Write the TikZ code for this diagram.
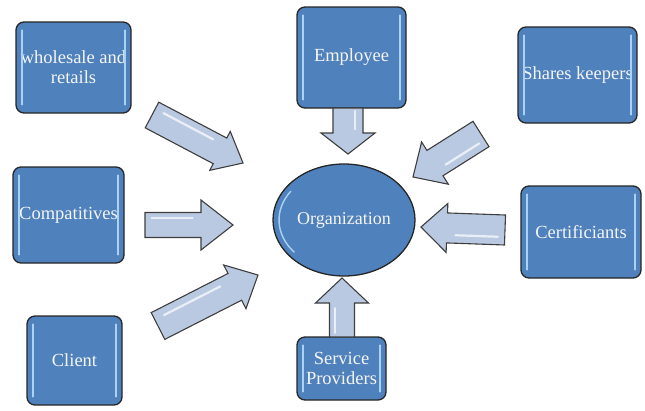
\documentclass[tikz,border=0pt]{standalone}
\usepackage{fontspec}
\setmainfont{Liberation Serif}
\usetikzlibrary{calc,shapes.geometric}

\definecolor{boxblue}{RGB}{79,129,189}
\definecolor{edgegray}{RGB}{38,38,38}
\definecolor{arrowfill}{RGB}{186,201,226}
\definecolor{arrowedge}{RGB}{62,62,62}
\definecolor{glint}{RGB}{170,210,245}
\definecolor{labelwhite}{RGB}{245,245,245}

\tikzset{
  party/.style={draw=edgegray, line width=1.3pt, fill=boxblue, rounded corners=8pt,
    text=labelwhite, font=\fontsize{18.5}{20}\selectfont, align=center, inner sep=0pt},
  hub/.style={ellipse, draw=edgegray, line width=1.3pt, fill=boxblue, text=labelwhite,
    font=\fontsize{18}{20}\selectfont, minimum width=142pt, minimum height=112pt, inner sep=0pt},
  blockarrow/.style={draw=arrowedge, line width=1.1pt, fill=arrowfill, line join=miter},
  arrowsheen/.style={draw=white, line width=2.2pt, line cap=round, opacity=0.7},
  boxsheen/.style={draw=glint, line width=2pt, line cap=round},
}

% block arrow: tail, tip, half shaft width, half head width, head length
\newcommand\blockarr[5]{%
  \coordinate (neck) at ($(#2)!#5!(#1)$);
  \draw[blockarrow] ($(#1)!#3!90:(#2)$) -- ($(neck)!#3!90:(#2)$)
    -- ($(neck)!#4!90:(#2)$) -- (#2) -- ($(neck)!#4!-90:(#2)$)
    -- ($(neck)!#3!-90:(#2)$) -- ($(#1)!#3!-90:(#2)$) -- cycle;
  \coordinate (g1) at ($(#1)!0.12!(neck)$);
  \coordinate (g2) at ($(#1)!0.85!(neck)$);
  \draw[arrowsheen] ($(g1)!7pt!90:(neck)$) -- ($(g2)!7pt!90:(neck)$);
}

% light edge strips inside a box
\newcommand\gleam[1]{%
  \draw[boxsheen] ($(#1.north west)+(7,9)$) -- ($(#1.south west)+(7,-9)$);
  \draw[boxsheen] ($(#1.north east)+(-7,9)$) -- ($(#1.south east)+(-7,-9)$);
}

\begin{document}
\begin{tikzpicture}[x=1pt,y=-1pt]
\useasboundingbox (0,0) rectangle (645,410);

% stakeholders
\node[party, minimum width=115pt, minimum height=91pt] (wh) at (73.5,67.5) {wholesale and\\retails};
\node[party, minimum width=109pt, minimum height=101pt] (emp) at (351.5,57.5) {Employee};
\node[party, minimum width=119pt, minimum height=96pt] (sh) at (577.5,75) {Shares keepers};
\node[party, minimum width=111pt, minimum height=96pt] (comp) at (68.5,215) {Compatitives};
\node[party, minimum width=120pt, minimum height=92pt] (cert) at (581,232) {Certificiants};
\node[party, minimum width=95pt, minimum height=89pt] (cli) at (74.5,360.5) {Client};
\node[party, minimum width=89pt, minimum height=63pt] (sp) at (341.5,368.5) {Service\\Providers};
\foreach \n in {wh,emp,sh,comp,cert,cli,sp} {\gleam{\n}}

% centre
\node[hub] (org) at (344,220) {Organization};
\draw[glint, line width=1.4pt, line cap=round]
  (org.center) ++(140:65 and 50) arc[start angle=140, end angle=215, x radius=65, y radius=50];

% arrow ends
\coordinate (whT) at (152,115);   \coordinate (whH) at (243,163);
\coordinate (empT) at (348,108);  \coordinate (empH) at (348,154);
\coordinate (shT) at (481,134);   \coordinate (shH) at (413,177);
\coordinate (compT) at (145,225); \coordinate (compH) at (233,225);
\coordinate (certT) at (505,230); \coordinate (certH) at (421,227);
\coordinate (cliT) at (158,326);  \coordinate (cliH) at (258,275);
\coordinate (spT) at (342,337);   \coordinate (spH) at (342,278);

\blockarr{whT}{whH}{14.5pt}{22pt}{26pt}
\blockarr{empT}{empH}{15pt}{27pt}{21pt}
\blockarr{shT}{shH}{15pt}{25pt}{26pt}
\blockarr{compT}{compH}{12.5pt}{25pt}{32pt}
\blockarr{certT}{certH}{15pt}{24.5pt}{26pt}
\blockarr{cliT}{cliH}{15pt}{24.5pt}{26pt}
\blockarr{spT}{spH}{12.5pt}{26.5pt}{25pt}
\end{tikzpicture}
\end{document}
